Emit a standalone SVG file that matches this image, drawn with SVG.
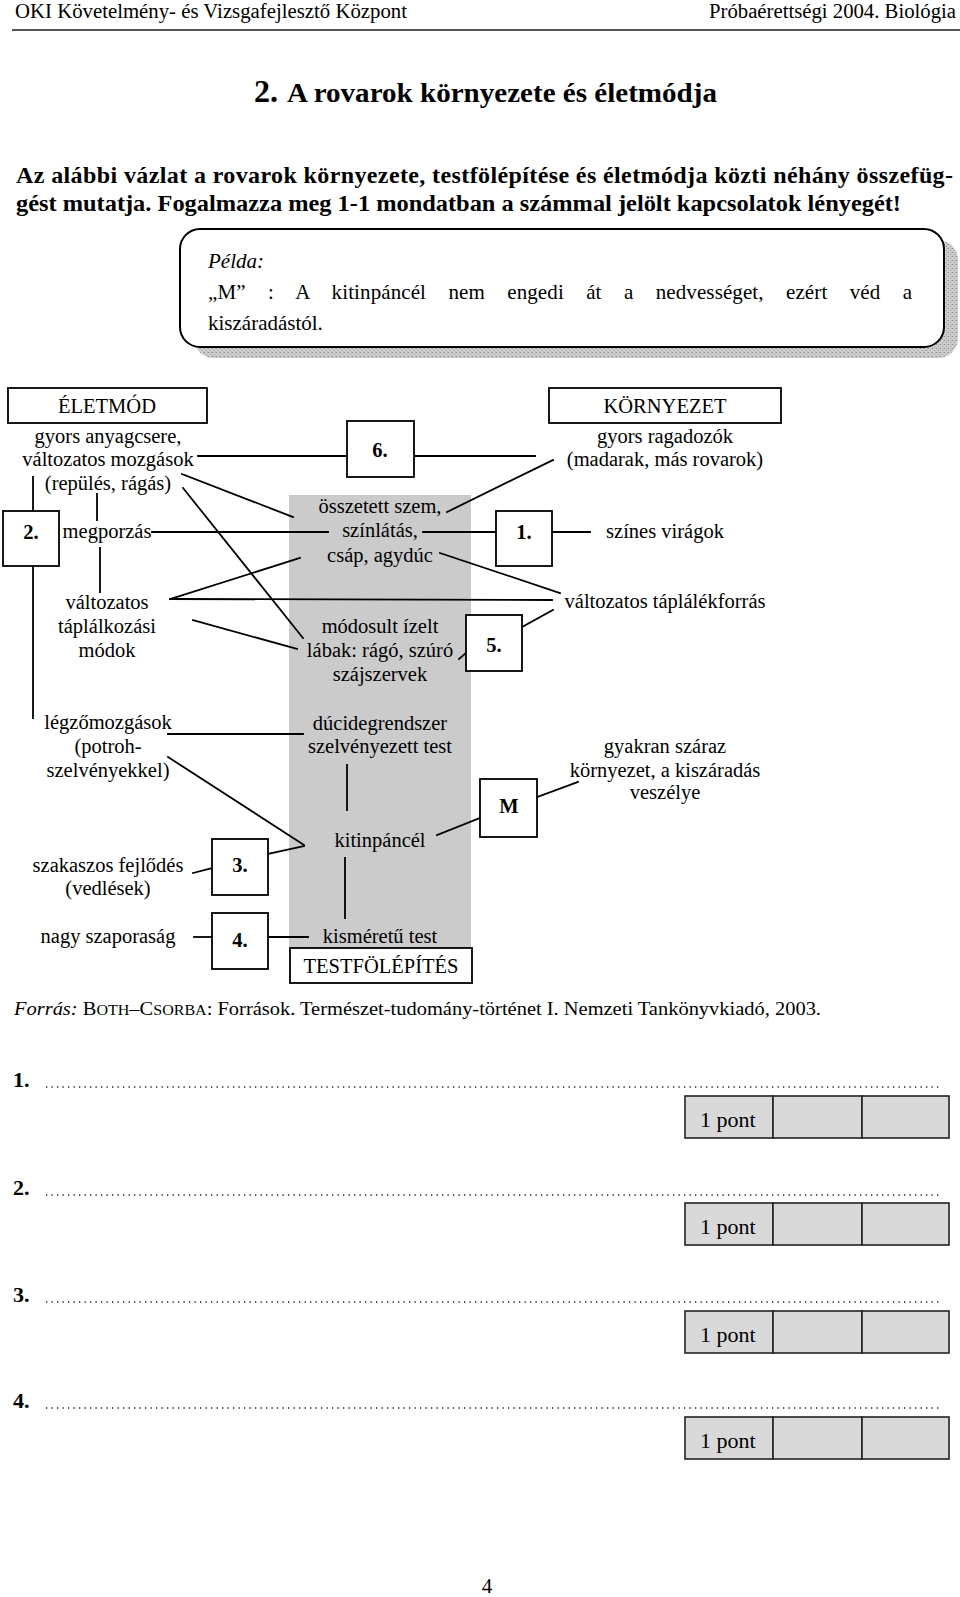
<svg xmlns="http://www.w3.org/2000/svg" width="960" height="1597" viewBox="0 0 960 1597">
<style>
.t{font-family:"Liberation Serif","Times New Roman",serif;font-size:20.5px;fill:#000}
.c{text-anchor:middle}
.b{font-weight:bold}
.i{font-style:italic}
.box{fill:#fff;stroke:#000;stroke-width:1.8}
#connectors line{stroke:#000;stroke-width:1.8;stroke-linecap:square}
.score rect{fill:#d9d9d9;stroke:#222;stroke-width:1.6}
.dots{stroke:#222;stroke-width:1.4;stroke-dasharray:1.3 4.2}
</style>
<defs>
<pattern id="hatch" width="4" height="4" patternUnits="userSpaceOnUse">
<rect width="4" height="4" fill="#cdcdcd"/>
<rect width="1" height="1" fill="#8a8a8a"/>
<rect x="2" y="2" width="1" height="1" fill="#9a9a9a"/>
<rect x="3" y="0" width="1" height="1" fill="#b0b0b0"/>
</pattern>
</defs>
<rect width="960" height="1597" fill="#fff"/>

<g id="header">
<text class="t" x="15" y="18" textLength="392" lengthAdjust="spacingAndGlyphs">OKI Követelmény- és Vizsgafejlesztő Központ</text>
<text class="t" x="709" y="18" textLength="247" lengthAdjust="spacingAndGlyphs">Próbaérettségi 2004. Biológia</text>
<line x1="12" y1="30" x2="960" y2="30" stroke="#555" stroke-width="2.2"/>
</g>

<g id="title">
<text class="t b" x="254" y="102" style="font-size:32px">2.</text>
<text class="t b" x="287" y="102" style="font-size:28px" textLength="430" lengthAdjust="spacingAndGlyphs">A rovarok környezete és életmódja</text>
</g>

<g id="intro">
<text class="t b" x="16" y="183" style="font-size:24px" textLength="937" lengthAdjust="spacing">Az alábbi vázlat a rovarok környezete, testfölépítése és életmódja közti néhány összefüg-</text>
<text class="t b" x="16" y="211" style="font-size:24px" textLength="885" lengthAdjust="spacingAndGlyphs">gést mutatja. Fogalmazza meg 1-1 mondatban a számmal jelölt kapcsolatok lényegét!</text>
</g>

<g id="example">
<rect x="194" y="240" width="764" height="118" rx="20" fill="url(#hatch)"/>
<rect x="180" y="229" width="764" height="118" rx="20" fill="#fff" stroke="#000" stroke-width="2"/>
<text class="t i" x="208" y="268" style="font-size:21px">Példa:</text>
<text class="t" x="208" y="299" style="font-size:21px;word-spacing:17px" textLength="704" lengthAdjust="spacing">„M” : A kitinpáncél nem engedi át a nedvességet, ezért véd a</text>
<text class="t" x="208" y="330" style="font-size:21px">kiszáradástól.</text>
</g>

<rect id="testfelepites-band" x="289" y="495" width="182" height="453" fill="#cbcbcb"/>

<g id="connectors">
<line x1="198" y1="456" x2="347" y2="456"/>
<line x1="414" y1="456" x2="535" y2="456"/>
<line x1="33" y1="477" x2="33" y2="511"/>
<line x1="33" y1="566" x2="33" y2="718"/>
<line x1="97" y1="494" x2="97" y2="520"/>
<line x1="100" y1="548" x2="100" y2="592"/>
<line x1="152" y1="532" x2="328" y2="532"/>
<line x1="423" y1="532" x2="496" y2="532"/>
<line x1="552" y1="532" x2="590" y2="532"/>
<line x1="182" y1="474" x2="293" y2="517"/>
<line x1="183" y1="488" x2="303" y2="638"/>
<line x1="447" y1="512" x2="553" y2="460"/>
<line x1="440" y1="553" x2="560" y2="593"/>
<line x1="170" y1="599" x2="300" y2="558"/>
<line x1="170" y1="599" x2="552" y2="600"/>
<line x1="193" y1="620" x2="297" y2="649"/>
<line x1="459" y1="659" x2="466" y2="653"/>
<line x1="522" y1="627" x2="553" y2="610"/>
<line x1="168" y1="734" x2="303" y2="734"/>
<line x1="168" y1="757" x2="304" y2="845"/>
<line x1="347" y1="765" x2="347" y2="810"/>
<line x1="437" y1="835" x2="480" y2="818"/>
<line x1="537" y1="797" x2="578" y2="782"/>
<line x1="268" y1="854" x2="304" y2="846"/>
<line x1="193" y1="873" x2="212" y2="868"/>
<line x1="345" y1="858" x2="345" y2="918"/>
<line x1="194" y1="937" x2="212" y2="937"/>
<line x1="268" y1="937" x2="308" y2="937"/>
</g>

<g id="eletmod">
<rect class="box" x="8" y="388" width="199" height="35"/>
<text class="t c" x="107" y="413">ÉLETMÓD</text>
</g>
<g id="kornyezet">
<rect class="box" x="549" y="388" width="232" height="35"/>
<text class="t c" x="665" y="413">KÖRNYEZET</text>
</g>
<g id="testfol">
<rect class="box" x="290" y="948" width="182" height="35"/>
<text class="t c" x="381" y="973">TESTFÖLÉPÍTÉS</text>
</g>

<g id="n6"><rect class="box" x="347" y="421" width="67" height="56"/><text class="t c b" x="380" y="457">6.</text></g>
<g id="n2"><rect class="box" x="3" y="511" width="56" height="55"/><text class="t c b" x="31" y="539">2.</text></g>
<g id="n1"><rect class="box" x="496" y="511" width="56" height="55"/><text class="t c b" x="524" y="539">1.</text></g>
<g id="n5"><rect class="box" x="466" y="615" width="56" height="56"/><text class="t c b" x="494" y="652">5.</text></g>
<g id="nM"><rect class="box" x="480" y="779" width="57" height="58"/><text class="t c b" x="509" y="813">M</text></g>
<g id="n3"><rect class="box" x="212" y="839" width="56" height="56"/><text class="t c b" x="240" y="872">3.</text></g>
<g id="n4"><rect class="box" x="212" y="913" width="56" height="56"/><text class="t c b" x="240" y="947">4.</text></g>

<g id="anyagcsere"><text class="t c" x="108" y="443">gyors anyagcsere,</text><text class="t c" x="108" y="466">változatos mozgások</text><text class="t c" x="108" y="490">(repülés, rágás)</text></g>
<g id="megporzas"><text class="t c" x="107" y="538">megporzás</text></g>
<g id="taplalkozas"><text class="t c" x="107" y="609">változatos</text><text class="t c" x="107" y="633">táplálkozási</text><text class="t c" x="107" y="657">módok</text></g>
<g id="legzes"><text class="t c" x="108" y="729">légzőmozgások</text><text class="t c" x="108" y="753">(potroh-</text><text class="t c" x="108" y="777">szelvényekkel)</text></g>
<g id="fejlodes"><text class="t c" x="108" y="872">szakaszos fejlődés</text><text class="t c" x="108" y="895">(vedlések)</text></g>
<g id="szaporasag"><text class="t c" x="108" y="943">nagy szaporaság</text></g>

<g id="szem"><text class="t c" x="380" y="513">összetett szem,</text><text class="t c" x="380" y="537">színlátás,</text><text class="t c" x="380" y="562">csáp, agydúc</text></g>
<g id="labak"><text class="t c" x="380" y="633">módosult ízelt</text><text class="t c" x="380" y="657">lábak: rágó, szúró</text><text class="t c" x="380" y="681">szájszervek</text></g>
<g id="duc"><text class="t c" x="380" y="730">dúcidegrendszer</text><text class="t c" x="380" y="753">szelvényezett test</text></g>
<g id="kitin"><text class="t c" x="380" y="847">kitinpáncél</text></g>
<g id="kismeretu"><text class="t c" x="380" y="943">kisméretű test</text></g>

<g id="ragadozok"><text class="t c" x="665" y="443">gyors ragadozók</text><text class="t c" x="665" y="466">(madarak, más rovarok)</text></g>
<g id="viragok"><text class="t c" x="665" y="538">színes virágok</text></g>
<g id="taplalekforras"><text class="t c" x="665" y="608">változatos táplálékforrás</text></g>
<g id="szaraz"><text class="t c" x="665" y="753">gyakran száraz</text><text class="t c" x="665" y="777">környezet, a kiszáradás</text><text class="t c" x="665" y="799">veszélye</text></g>

<g id="source">
<text class="t" x="14" y="1015" style="font-size:18.5px" textLength="807" lengthAdjust="spacingAndGlyphs"><tspan class="i">Forrás:</tspan> B<tspan style="font-size:14.5px">OTH</tspan>–C<tspan style="font-size:14.5px">SORBA</tspan>: Források. Természet-tudomány-történet I. Nemzeti Tankönyvkiadó, 2003.</text>
</g>

<g id="answers">
<text class="t b" x="13" y="1087" style="font-size:22px">1.</text>
<line class="dots" x1="46" y1="1087" x2="940" y2="1087"/>
<g class="score"><rect x="685" y="1096" width="88" height="42"/><rect x="773" y="1096" width="89" height="42"/><rect x="862" y="1096" width="87" height="42"/></g>
<text class="t" x="700" y="1127" style="font-size:22px">1 pont</text>

<text class="t b" x="13" y="1195" style="font-size:22px">2.</text>
<line class="dots" x1="46" y1="1195" x2="940" y2="1195"/>
<g class="score"><rect x="685" y="1203" width="88" height="42"/><rect x="773" y="1203" width="89" height="42"/><rect x="862" y="1203" width="87" height="42"/></g>
<text class="t" x="700" y="1234" style="font-size:22px">1 pont</text>

<text class="t b" x="13" y="1302" style="font-size:22px">3.</text>
<line class="dots" x1="46" y1="1302" x2="940" y2="1302"/>
<g class="score"><rect x="685" y="1311" width="88" height="42"/><rect x="773" y="1311" width="89" height="42"/><rect x="862" y="1311" width="87" height="42"/></g>
<text class="t" x="700" y="1342" style="font-size:22px">1 pont</text>

<text class="t b" x="13" y="1408" style="font-size:22px">4.</text>
<line class="dots" x1="46" y1="1408" x2="940" y2="1408"/>
<g class="score"><rect x="685" y="1417" width="88" height="42"/><rect x="773" y="1417" width="89" height="42"/><rect x="862" y="1417" width="87" height="42"/></g>
<text class="t" x="700" y="1448" style="font-size:22px">1 pont</text>
</g>

<text class="t c" x="487" y="1593" style="font-size:21px">4</text>
</svg>
